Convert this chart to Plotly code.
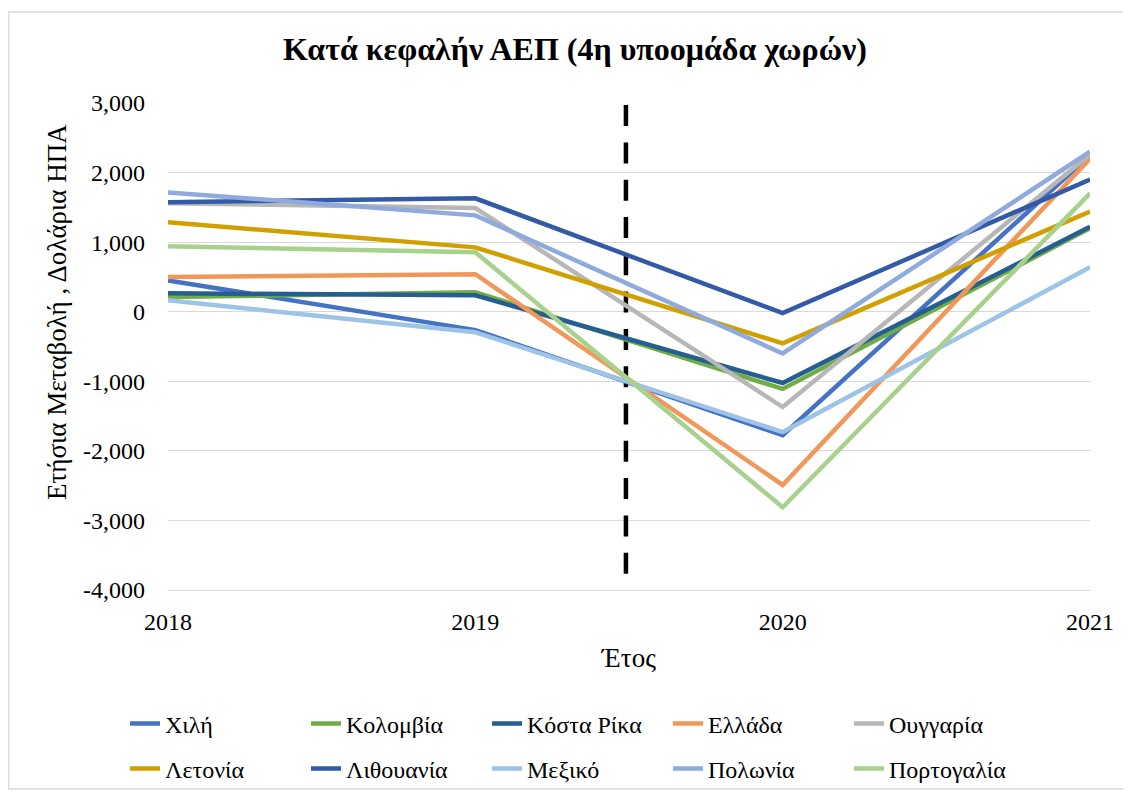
import plotly.graph_objects as go

# Annual change of GDP per capita (USD)
years = [2018, 2019, 2020, 2021]

countries = ["Χιλή", "Κολομβία", "Κόστα Ρίκα", "Ελλάδα", "Ουγγαρία",
             "Λετονία", "Λιθουανία", "Μεξικό", "Πολωνία", "Πορτογαλία"]

chile = [450, -265, -1775, 2250]
colombia = [210, 280, -1110, 1200]
costa_rica = [265, 235, -1025, 1220]
greece = [500, 540, -2490, 2200]
hungary = [1560, 1490, -1370, 2260]
latvia = [1285, 925, -455, 1440]
lithuania = [1575, 1630, -20, 1900]
mexico = [165, -295, -1730, 640]
poland = [1715, 1385, -600, 2300]
portugal = [940, 855, -2810, 1700]

series = [chile, colombia, costa_rica, greece, hungary,
          latvia, lithuania, mexico, poland, portugal]

colors = ["#4472C4", "#70AD47", "#255E91", "#F1975A", "#B7B7B7",
          "#D1A000", "#335AA6", "#9DC3E6", "#8FAADC", "#A9D18E"]

# vertical dashed marker between 2019 and 2020
divider_x = [2019.49, 2019.49]
divider_y = [2970, -3800]

y_min, y_max = -4000, 3000
y_ticks = [3000, 2000, 1000, 0, -1000, -2000, -3000, -4000]
y_tick_text = ["3,000", "2,000", "1,000", "0", "-1,000", "-2,000", "-3,000", "-4,000"]

font = "Liberation Serif"

# the page body has an 8px margin, so everything is laid out 8px up/left
W, H = 1123, 786
L, T = 160, 95
pw, ph = 1082 - L, 582 - T
R, B = W - L - pw, H - T - ph


def px_x(x):
    return (x - L) / pw


def px_y(y):
    return (T + ph - y) / ph


fig = go.Figure()

fig.add_trace(go.Scatter(x=divider_x, y=divider_y, mode="lines",
                         line=dict(color="black", width=4.5, dash="21px,16.3px"),
                         showlegend=False, hoverinfo="skip"))

for i, (name, vals, col) in enumerate(zip(countries, series, colors)):
    fig.add_trace(go.Scatter(x=years, y=vals, name=name, mode="lines",
                             line=dict(color=col, width=4.5),
                             legend="legend" if i < 5 else "legend2"))

leg_common = dict(orientation="h", xanchor="left", yanchor="middle",
                  xref="container", yref="container",
                  entrywidth=136, entrywidthmode="pixels",
                  font=dict(family=font, size=24, color="black"),
                  bgcolor="rgba(0,0,0,0)")

fig.update_layout(
    width=W, height=H,
    margin=dict(l=L, r=R, t=T, b=B, autoexpand=False),
    paper_bgcolor="white", plot_bgcolor="white",
    font=dict(family=font, size=24, color="black"),
    title=dict(text="<b>Κατά κεφαλήν ΑΕΠ (4η υποομάδα χωρών)</b>",
               x=567 / W, xanchor="center", y=1 - 41 / H, yanchor="middle",
               font=dict(family=font, size=32, color="black")),
    legend=dict(x=117 / W, y=1 - 716 / H, **leg_common),
    legend2=dict(x=117 / W, y=1 - 761 / H, **leg_common),
    showlegend=True,
)

fig.update_xaxes(range=[2018, 2021], tickvals=years, ticktext=[str(y) for y in years],
                 showgrid=False, zeroline=False, showline=True,
                 linecolor="#D9D9D9", linewidth=1.3, ticks="",
                 ticklabelstandoff=10,
                 title=dict(text="Έτος", standoff=14, font=dict(family=font, size=27)))

# category axis crossing at zero: only its tick marks are visible
fig.update_layout(xaxis2=dict(overlaying="x", anchor="free", side="bottom",
                              position=(0 - y_min) / (y_max - y_min),
                              range=[2018, 2021], tickvals=years,
                              showticklabels=False, showgrid=False, zeroline=False,
                              showline=False, ticks="inside", ticklen=7,
                              tickcolor="#D9D9D9", tickwidth=1.3))

fig.update_yaxes(range=[y_min, y_max], tickvals=y_ticks, ticktext=y_tick_text,
                 showgrid=True, gridcolor="#D9D9D9", gridwidth=1.3,
                 zeroline=False, showline=False, ticks="",
                 ticklabelstandoff=22)

# y-axis title placed as annotation to match the reference position
fig.add_annotation(text="Ετήσια Μεταβολή , Δολάρια ΗΠΑ", textangle=-90,
                   xref="paper", yref="paper", x=px_x(49), y=px_y(304),
                   xanchor="center", yanchor="middle", showarrow=False,
                   font=dict(family=font, size=27))

# chart area border
fig.add_shape(type="rect", xref="paper", yref="paper",
              x0=px_x(0.7), x1=px_x(1116), y0=px_y(781), y1=px_y(4),
              line=dict(color="#D9D9D9", width=1.3), layer="below")

fig.write_html("out.html")
